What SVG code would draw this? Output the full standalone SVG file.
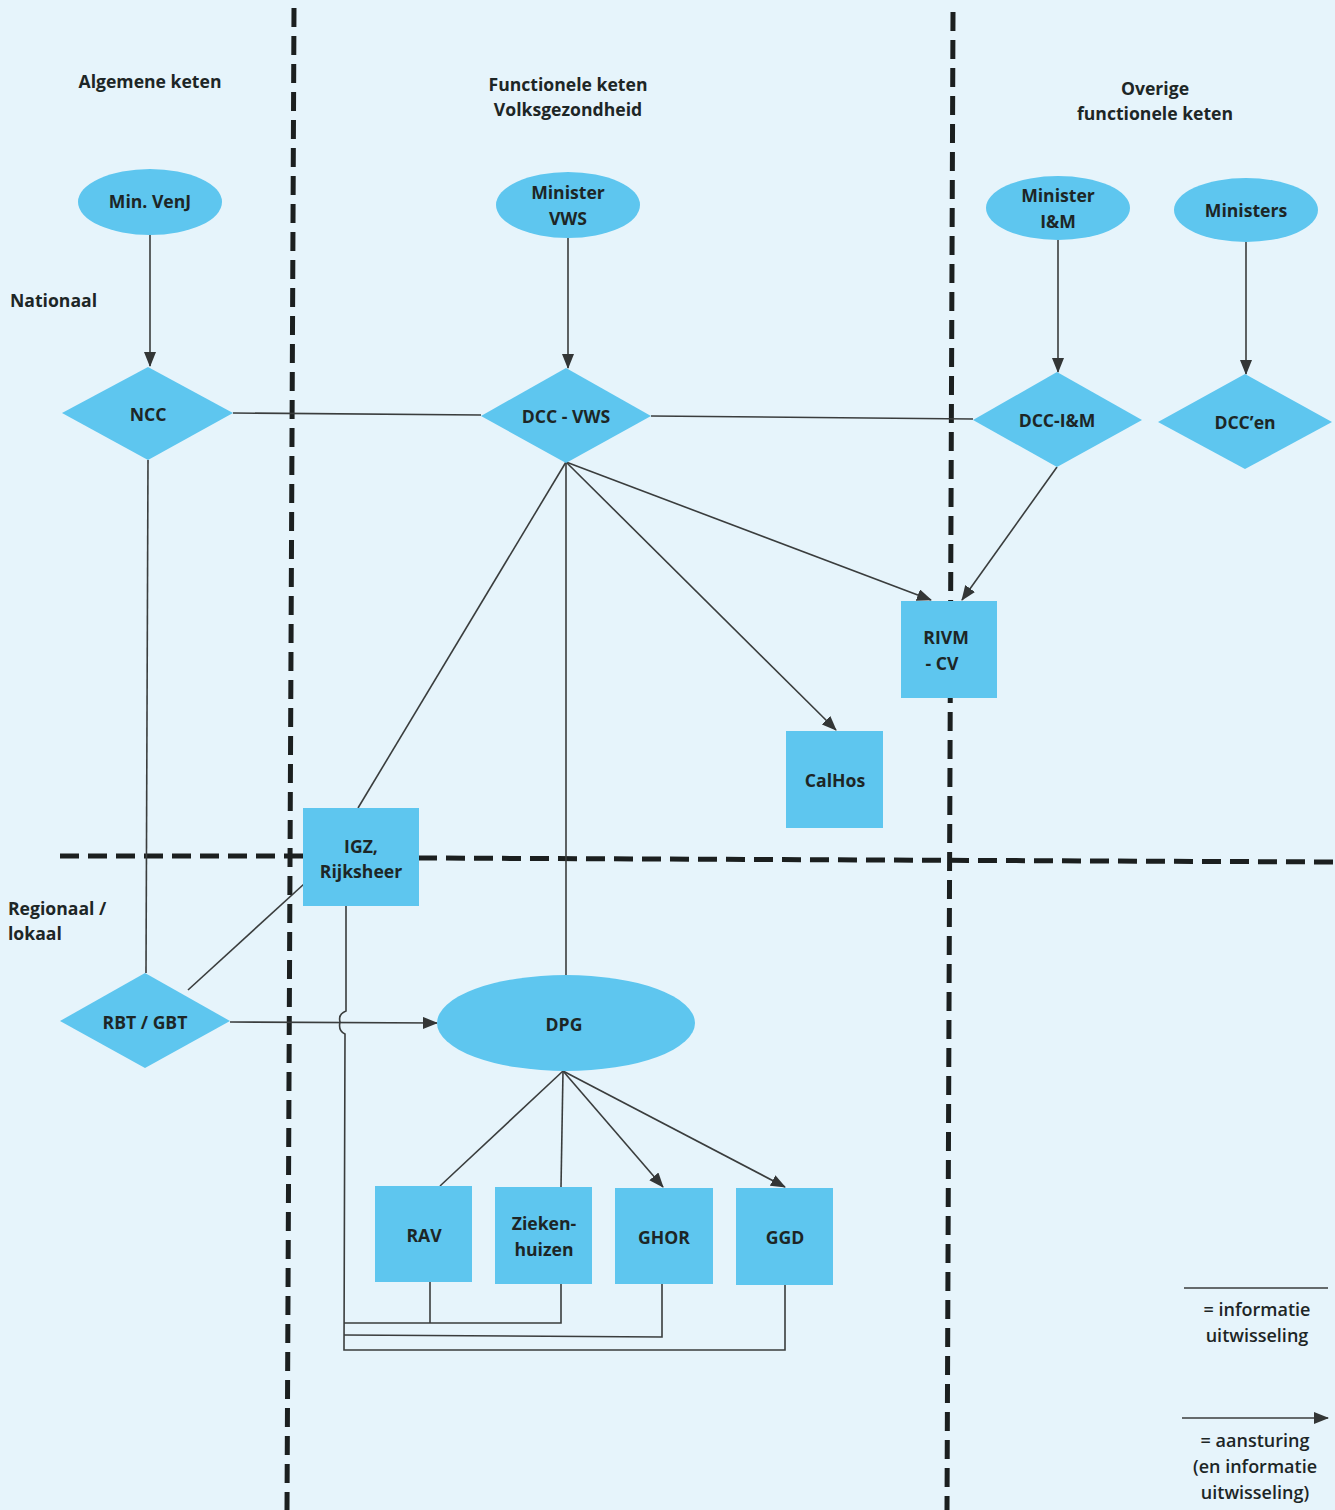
<svg xmlns="http://www.w3.org/2000/svg" width="1335" height="1510" viewBox="0 0 1335 1510">
<defs>
<style>
.bg{fill:#e6f4fb}
.node{fill:#5ec6ef}
.t{font-family:"Open Sans","Noto Sans","Liberation Sans",sans-serif;font-weight:bold;font-size:17.6px;fill:#1d2626;text-anchor:middle}
.h{font-family:"Open Sans","Noto Sans","Liberation Sans",sans-serif;font-weight:bold;font-size:17.6px;fill:#1d2626}
.lg{font-family:"Open Sans","Noto Sans","Liberation Sans",sans-serif;font-weight:600;font-size:18px;fill:#1d2626;text-anchor:middle}
.c{stroke:#3a3d3d;stroke-width:1.6;fill:none}
.a{stroke:#3a3d3d;stroke-width:1.6;fill:none;marker-end:url(#arr)}
.d{stroke:#1b1f1f;stroke-width:5;stroke-dasharray:19 9;fill:none}
</style>
<marker id="arr" markerWidth="15" markerHeight="12" refX="14" refY="6" orient="auto" markerUnits="userSpaceOnUse">
<path d="M0,0 L15,6 L0,12 Z" fill="#333636"/>
</marker>
</defs>
<rect class="bg" x="0" y="0" width="1335" height="1510"/>

<g id="dividers">
<line class="d" x1="294" y1="8" x2="287" y2="1510"/>
<line class="d" x1="953" y1="12" x2="947" y2="1510"/>
<line class="d" x1="60" y1="856" x2="305" y2="856"/>
<line class="d" x1="418" y1="858" x2="1335" y2="862"/>
</g>

<g id="labels">
<text class="t" x="150" y="88">Algemene keten</text>
<text class="t" x="568" y="91">Functionele keten</text>
<text class="t" x="568" y="116">Volksgezondheid</text>
<text class="t" x="1155" y="95">Overige</text>
<text class="t" x="1155" y="120">functionele keten</text>
<text class="h" x="10" y="307">Nationaal</text>
<text class="h" x="8" y="915">Regionaal /</text>
<text class="h" x="8" y="940">lokaal</text>
</g>

<g id="connectors">
<line class="a" x1="150" y1="235" x2="150" y2="366"/>
<line class="a" x1="568" y1="238" x2="568" y2="368"/>
<line class="a" x1="1058" y1="240" x2="1058" y2="372"/>
<line class="a" x1="1246" y1="242" x2="1246" y2="374"/>
<line class="c" x1="233" y1="413" x2="481" y2="415"/>
<line class="c" x1="651" y1="416" x2="973" y2="419"/>
<line class="c" x1="148" y1="460" x2="146" y2="973"/>
<line class="c" x1="566" y1="462" x2="358" y2="808"/>
<line class="c" x1="566" y1="462" x2="566" y2="975"/>
<line class="a" x1="566" y1="462" x2="836" y2="730"/>
<line class="a" x1="566" y1="462" x2="931" y2="600"/>
<line class="a" x1="1057" y1="467" x2="962" y2="600"/>
<line class="c" x1="188" y1="990" x2="304" y2="884"/>
<line class="a" x1="230" y1="1022" x2="437" y2="1023"/>
<path class="c" d="M346,906 L346,1011 Q338,1014 340,1022 Q338,1031 345,1034 L344,1350 L785,1350 L785,1285"/>
<path class="c" d="M344,1323 L561,1323 L561,1284"/>
<line class="c" x1="430" y1="1282" x2="430" y2="1323"/>
<path class="c" d="M344,1335 L662,1337 L662,1284"/>
<line class="c" x1="563" y1="1071" x2="440" y2="1186"/>
<line class="c" x1="563" y1="1071" x2="561" y2="1187"/>
<line class="a" x1="563" y1="1071" x2="663" y2="1187"/>
<line class="a" x1="563" y1="1071" x2="785" y2="1187"/>
</g>

<g id="n-minvenj"><ellipse class="node" cx="150" cy="202" rx="72" ry="33"/><text class="t" x="150" y="208">Min. VenJ</text></g>
<g id="n-ncc"><polygon class="node" points="148,367 233,413 148,460 62,413"/><text class="t" x="148" y="421">NCC</text></g>
<g id="n-minvws"><ellipse class="node" cx="568" cy="205" rx="72" ry="33"/><text class="t" x="568" y="199">Minister</text><text class="t" x="568" y="225">VWS</text></g>
<g id="n-dccvws"><polygon class="node" points="566,368 651,416 566,463 481,416"/><text class="t" x="566" y="423">DCC - VWS</text></g>
<g id="n-minim"><ellipse class="node" cx="1058" cy="208" rx="72" ry="32"/><text class="t" x="1058" y="202">Minister</text><text class="t" x="1058" y="228">I&amp;M</text></g>
<g id="n-ministers"><ellipse class="node" cx="1246" cy="210" rx="72" ry="32"/><text class="t" x="1246" y="217">Ministers</text></g>
<g id="n-dccim"><polygon class="node" points="1057,372 1142,420 1057,467 973,420"/><text class="t" x="1057" y="427">DCC-I&amp;M</text></g>
<g id="n-dccen"><polygon class="node" points="1245,374 1332,422 1245,469 1158,422"/><text class="t" x="1245" y="429">DCC’en</text></g>
<g id="n-rivm"><rect class="node" x="901" y="601" width="96" height="97"/><text class="t" x="946" y="644">RIVM</text><text class="t" x="942" y="670">- CV</text></g>
<g id="n-calhos"><rect class="node" x="786" y="731" width="97" height="97"/><text class="t" x="835" y="787">CalHos</text></g>
<g id="n-igz"><rect class="node" x="303" y="808" width="116" height="98"/><text class="t" x="361" y="853">IGZ,</text><text class="t" x="361" y="878">Rijksheer</text></g>
<g id="n-rbt"><polygon class="node" points="145,973 230,1021 145,1068 60,1021"/><text class="t" x="145" y="1029">RBT / GBT</text></g>
<g id="n-dpg"><ellipse class="node" cx="566" cy="1023" rx="129" ry="48"/><text class="t" x="564" y="1031">DPG</text></g>
<g id="n-rav"><rect class="node" x="375" y="1186" width="97" height="96"/><text class="t" x="424" y="1242">RAV</text></g>
<g id="n-zieken"><rect class="node" x="495" y="1187" width="97" height="97"/><text class="t" x="544" y="1230">Zieken-</text><text class="t" x="544" y="1256">huizen</text></g>
<g id="n-ghor"><rect class="node" x="615" y="1188" width="98" height="96"/><text class="t" x="664" y="1244">GHOR</text></g>
<g id="n-ggd"><rect class="node" x="736" y="1188" width="97" height="97"/><text class="t" x="785" y="1244">GGD</text></g>

<g id="legend">
<line class="c" x1="1184" y1="1288" x2="1328" y2="1288"/>
<text class="lg" x="1257" y="1316">= informatie</text>
<text class="lg" x="1257" y="1342">uitwisseling</text>
<line class="a" x1="1182" y1="1418" x2="1328" y2="1418"/>
<text class="lg" x="1255" y="1447">= aansturing</text>
<text class="lg" x="1255" y="1473">(en informatie</text>
<text class="lg" x="1255" y="1499">uitwisseling)</text>
</g>
</svg>
